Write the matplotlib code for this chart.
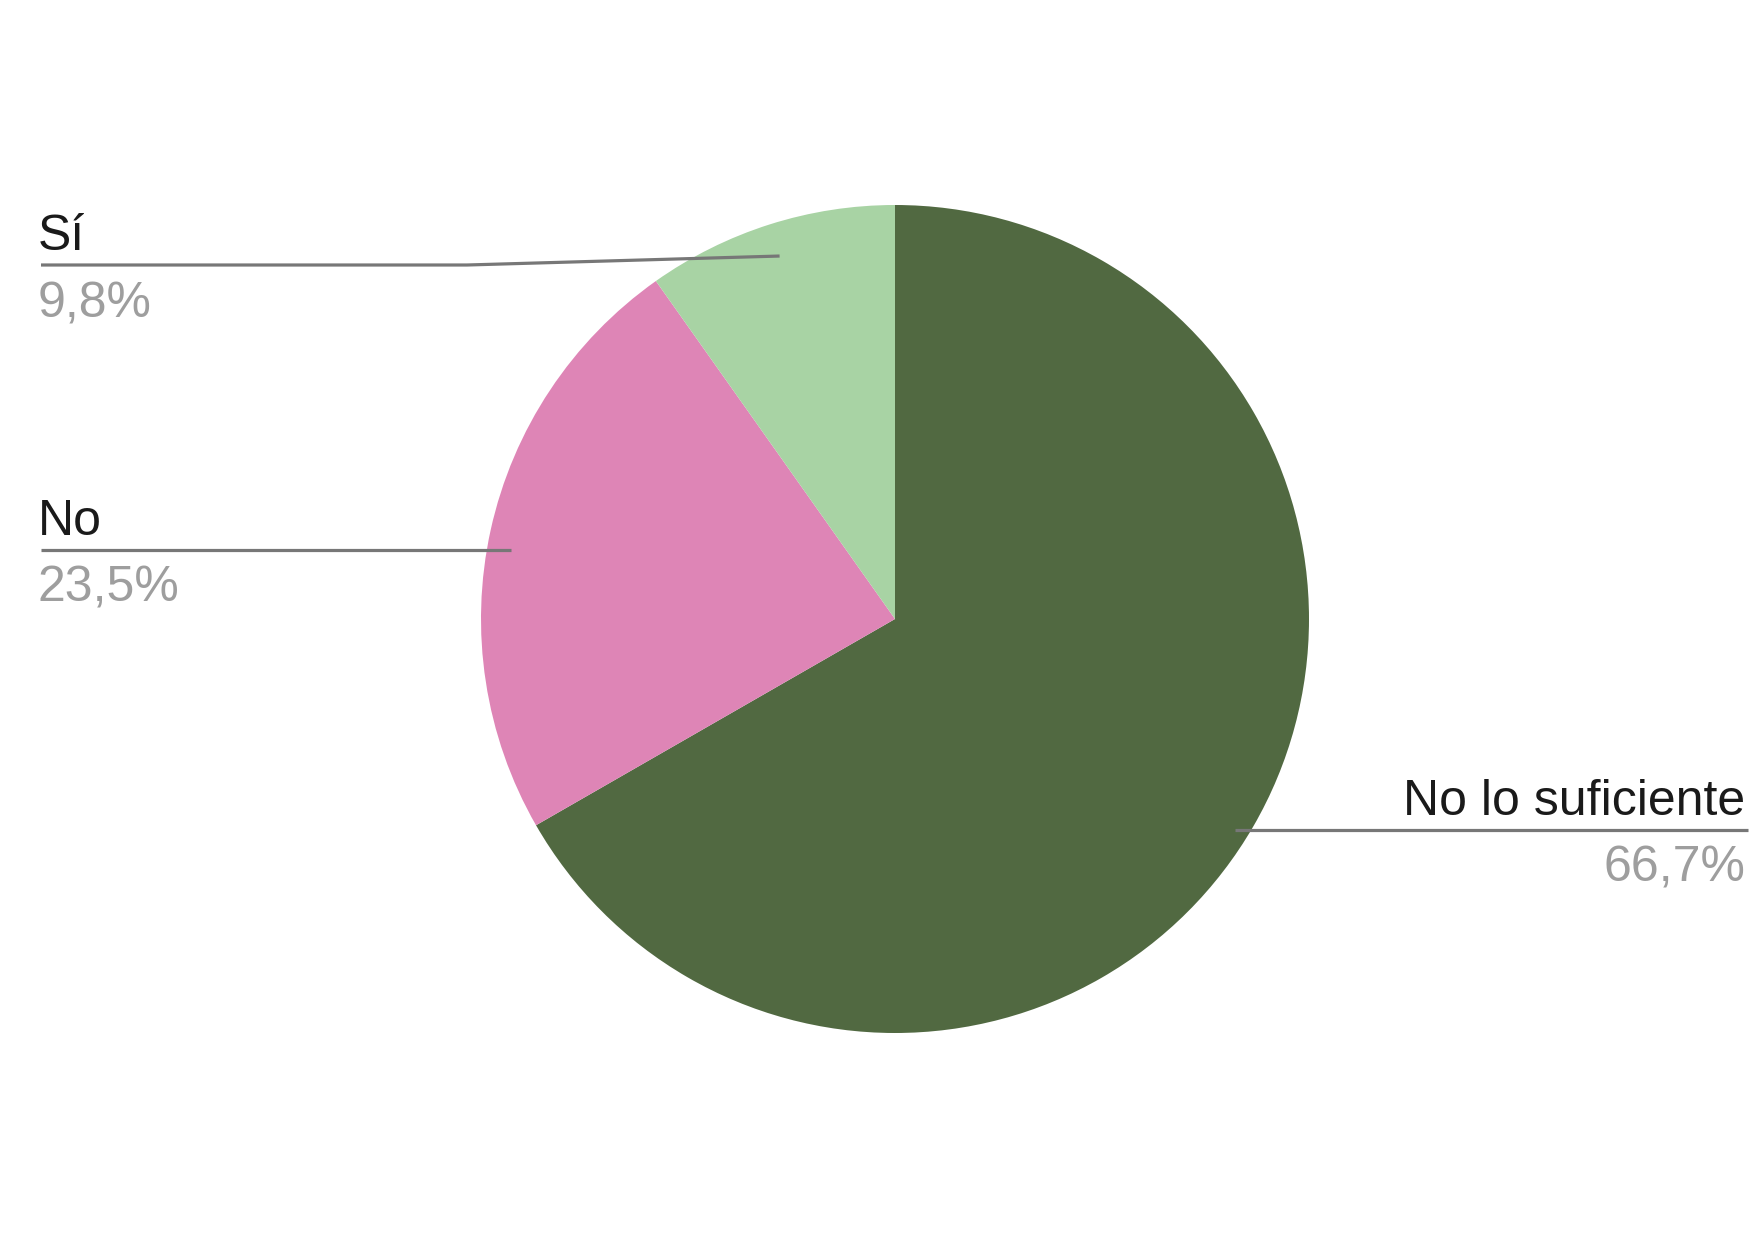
import numpy as np
import matplotlib
matplotlib.use("Agg")
import matplotlib.pyplot as plt

labels = ["No lo suficiente", "No", "Sí"]
values = [66.7, 23.5, 9.8]
pct_labels = ["66,7%", "23,5%", "9,8%"]
colors = ["#516941", "#de85b6", "#a8d3a4"]

W, H = 1754, 1241
plt.rcParams['font.family'] = ['Liberation Sans', 'DejaVu Sans']

fig = plt.figure(figsize=(W / 100, H / 100), dpi=100)
ax = fig.add_axes([0, 0, 1, 1])

cx, cy, r = 895, H - 619, 414
wedges, _ = ax.pie(values, startangle=90, counterclock=False, colors=colors,
                   center=(cx, cy), radius=r,
                   wedgeprops=dict(linewidth=0))
ax.set_xlim(0, W)
ax.set_ylim(0, H)
ax.set_aspect('equal')
ax.axis('off')

# label layout: (line y from top, line x start, elbow x / line x end, side, anchor radius)
layout = {
    "Sí": (265, 41, 467, 'left', 0.92),
    "No": (550, 41, None, 'left', 0.95),
    "No lo suficiente": (830, None, 1748, 'right', 0.95),
}

line_color = "#777777"
fs = 36
for w, lab, pct in zip(wedges, labels, pct_labels):
    ly, x0, x1, side, fr = layout[lab]
    mid = np.deg2rad((w.theta1 + w.theta2) / 2)
    ax_x = cx + fr * r * np.cos(mid)
    ax_y = cy + fr * r * np.sin(mid)
    ly = H - ly
    if side == 'left':
        if x1 is not None:
            ax.plot([x0, x1, ax_x], [ly, ly, ax_y], color=line_color, lw=2.3,
                    solid_capstyle='butt')
        else:
            ax.plot([x0, ax_x], [ly, ly], color=line_color, lw=2.3,
                    solid_capstyle='butt')
        ax.text(x0 - 3, ly + 15, lab, ha='left', va='baseline',
                fontsize=fs, color="#1a1a1a")
        ax.text(x0 - 3, ly - 16, pct, ha='left', va='top',
                fontsize=fs, color="#9e9e9e")
    else:
        ax.plot([ax_x, x1], [ly, ly], color=line_color, lw=2.3,
                solid_capstyle='butt')
        ax.text(x1 - 3, ly + 15, lab, ha='right', va='baseline',
                fontsize=fs, color="#1a1a1a")
        ax.text(x1 - 3, ly - 16, pct, ha='right', va='top',
                fontsize=fs, color="#9e9e9e")

fig.savefig("out.png", dpi=100)
